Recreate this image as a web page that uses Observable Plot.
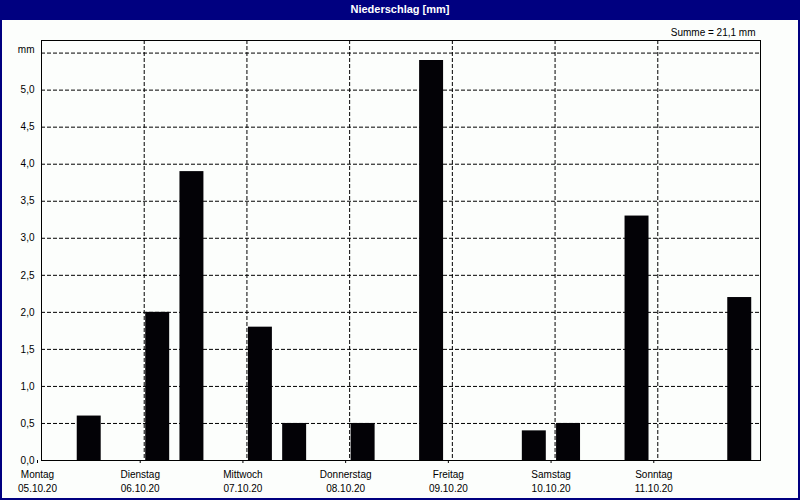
<!DOCTYPE html>
<html>
<head>
<meta charset="utf-8">
<script src="https://cdn.jsdelivr.net/npm/d3@7"></script>
<script src="https://cdn.jsdelivr.net/npm/@observablehq/plot@0.6"></script>
<style>
  html, body { margin: 0; padding: 0; background: #fcfefc; }
  #wrap { position: relative; width: 800px; height: 500px; background: #fcfefc; overflow: hidden;
          font-family: "Liberation Sans", Arial, sans-serif; }
  #title { position: absolute; left: 0; top: 0; width: 800px; height: 20px; background: #000080;
           color: #fff; font: bold 11px "Liberation Sans Narrow", "Liberation Sans", Arial, sans-serif;
           text-align: center; line-height: 19px; }
  #chart { position: absolute; left: 0; top: 20px; }
  #border { position: absolute; inset: 0; border: 2px solid #000080; border-top: none; box-sizing: border-box; pointer-events: none; }
</style>
</head>
<body>
<div id="wrap">
  <div id="title">Niederschlag [mm]</div>
  <div id="chart"></div>
  <div id="border"></div>
</div>
<script>
// Hours since Monday 05.10.20 00:00 at the start of each 8-hour interval with precipitation
const slotHours = [8, 24, 32, 48, 56, 72, 88, 112, 120, 136, 160];
const values    = [0.6, 2.0, 3.9, 1.8, 0.5, 0.5, 5.4, 0.4, 0.5, 3.3, 2.2];

const dayNames = ["Montag", "Dienstag", "Mittwoch", "Donnerstag", "Freitag", "Samstag", "Sonntag"];
const dayDates = ["05.10.20", "06.10.20", "07.10.20", "08.10.20", "09.10.20", "10.10.20", "11.10.20"];
const dayStartHours = [0, 24, 48, 72, 96, 120, 144];

const yTicks = [0, 0.5, 1, 1.5, 2, 2.5, 3, 3.5, 4, 4.5, 5];
const yGrid  = [0.5, 1, 1.5, 2, 2.5, 3, 3.5, 4, 4.5, 5, 5.5];
const summeText = "Summe = 21,1 mm";
const yUnit = "mm";

const data = slotHours.map((h, i) => ({ h, v: values[i] }));

const plot = Plot.plot({
  width: 800,
  height: 480,
  marginLeft: 41,
  marginRight: 40,
  marginTop: 20,
  marginBottom: 40,
  style: { fontFamily: "'Liberation Sans', Arial, sans-serif", fontSize: "10px", color: "#000", background: "transparent" },
  x: { type: "linear", domain: [0, 168] },
  y: { domain: [0, Math.max(...values) * 1.05] },
  marks: [
    Plot.gridY(yGrid, { stroke: "#000", strokeOpacity: 1, strokeDasharray: "4,2" }),
    Plot.gridX(dayStartHours.slice(1), { stroke: "#000", strokeOpacity: 1, strokeDasharray: "4,2" }),
    Plot.rect(data, {
      x1: d => d.h + 0.35,
      x2: d => d.h + 5.95,
      y1: 0,
      y2: "v",
      fill: "#030206"
    }),
    Plot.frame({ stroke: "#000" }),
    Plot.axisY({
      ticks: yTicks,
      tickFormat: d => d.toFixed(1).replace(".", ","),
      tickSize: 0,
      tickPadding: 7,
      label: null
    }),
    Plot.text([yUnit], { frameAnchor: "top-left", dx: -7, dy: 5, textAnchor: "end", fill: "#000" }),
    Plot.text([summeText], { frameAnchor: "top-right", dx: -5, dy: -12, textAnchor: "end", fill: "#000" }),
    Plot.axisX({
      ticks: dayStartHours,
      tickFormat: d => dayNames[dayStartHours.indexOf(d)] + "\n" + dayDates[dayStartHours.indexOf(d)],
      tickSize: 3,
      tickPadding: 4,
      lineHeight: 1.45,
      dx: -4,
      label: null
    })
  ]
});
document.getElementById("chart").appendChild(plot);
</script>
</body>
</html>
